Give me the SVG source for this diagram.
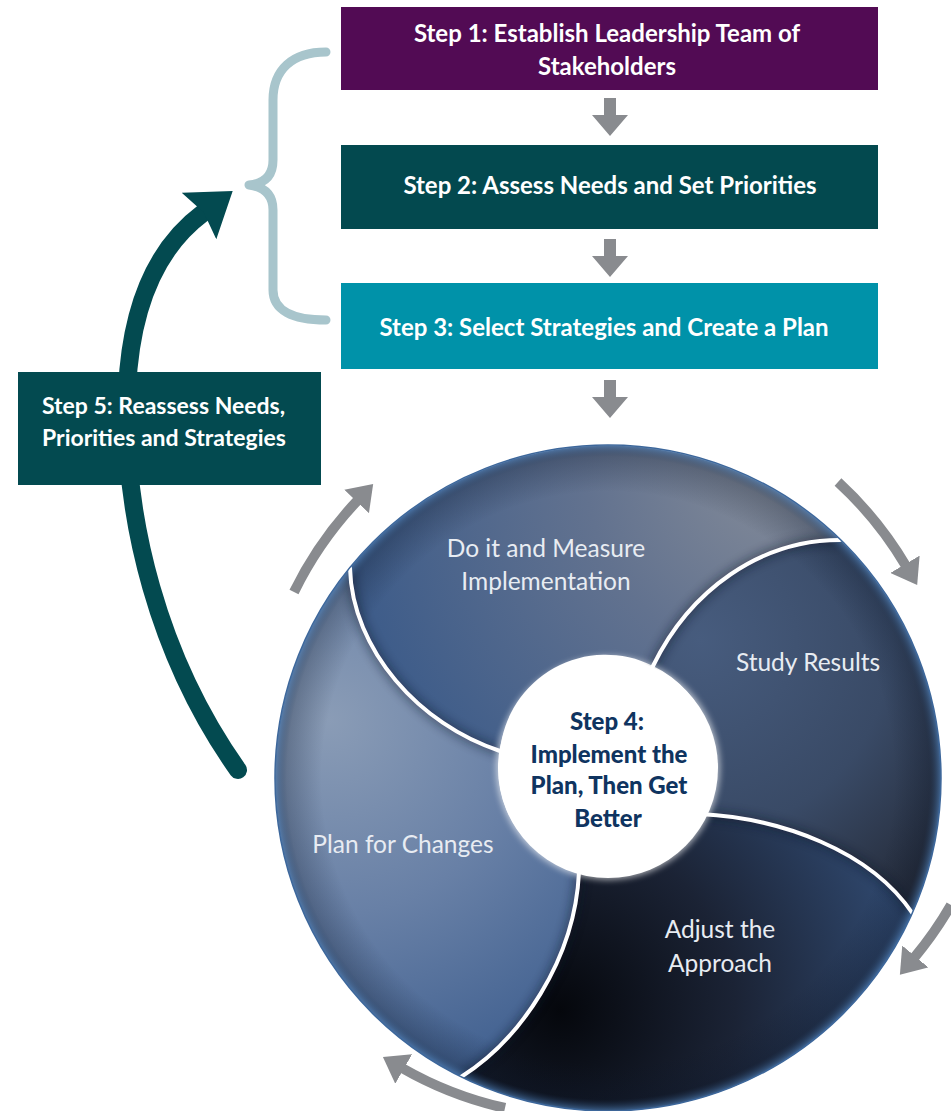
<svg xmlns="http://www.w3.org/2000/svg" width="951" height="1111" viewBox="0 0 951 1111">
  <style>
    .box-text { font-family: Lato, "Open Sans", sans-serif; font-weight: 700; fill: #ffffff; text-anchor: middle; font-size: 24px; }
    .side-text { font-family: Lato, "Open Sans", sans-serif; font-weight: 700; fill: #ffffff; font-size: 23px; }
    .petal-text { font-family: Lato, "Open Sans", sans-serif; font-weight: 400; fill: #e8ecf2; text-anchor: middle; font-size: 24.5px; }
    .hub-text { font-family: Lato, "Open Sans", sans-serif; font-weight: 900; fill: #0f3460; text-anchor: middle; font-size: 24px; }
    .gray-arc { fill: none; stroke: #898b8f; stroke-width: 10; marker-end: url(#grayHead); }
    .divider { fill: none; stroke: #ffffff; stroke-width: 4; stroke-linecap: round; }
    .divider-shadow { fill: none; stroke: #0b1526; stroke-width: 10; opacity: 0.4; filter: url(#soft); }
  </style>
  <defs>
    <marker id="grayHead" markerUnits="userSpaceOnUse" viewBox="0 0 24 34" markerWidth="24" markerHeight="34" refX="2" refY="17" orient="auto">
      <path d="M0,0 L24,17 L0,34 z" fill="#898b8f"/>
    </marker>
    <marker id="tealHead" markerUnits="userSpaceOnUse" viewBox="0 0 42 58" markerWidth="42" markerHeight="58" refX="5" refY="29" orient="auto">
      <path d="M0,0 L42,29 L0,58 L6,29 z" fill="#034a50"/>
    </marker>
    <path id="downArrow" d="M-6,0 h12 v17 h12 l-18,21 l-18,-21 h12 z" fill="#898b8f"/>
    <filter id="soft" x="-20%" y="-20%" width="140%" height="140%">
      <feGaussianBlur stdDeviation="5"/>
    </filter>
    <filter id="glow" x="-30%" y="-30%" width="160%" height="160%">
      <feGaussianBlur stdDeviation="3"/>
    </filter>
    <radialGradient id="gDo" gradientUnits="userSpaceOnUse" cx="780" cy="470" r="430">
      <stop offset="0" stop-color="#858c99"/>
      <stop offset="0.45" stop-color="#62728f"/>
      <stop offset="1" stop-color="#3f5d8a"/>
    </radialGradient>
    <radialGradient id="gStudy" gradientUnits="userSpaceOnUse" cx="700" cy="640" r="320">
      <stop offset="0" stop-color="#475c7e"/>
      <stop offset="0.6" stop-color="#394a66"/>
      <stop offset="1" stop-color="#262d3c"/>
    </radialGradient>
    <radialGradient id="gAdjust" gradientUnits="userSpaceOnUse" cx="560" cy="1010" r="390">
      <stop offset="0" stop-color="#05070c"/>
      <stop offset="0.45" stop-color="#1b2335"/>
      <stop offset="1" stop-color="#34507a"/>
    </radialGradient>
    <radialGradient id="gPlan" gradientUnits="userSpaceOnUse" cx="330" cy="720" r="390">
      <stop offset="0" stop-color="#8a9cb6"/>
      <stop offset="0.5" stop-color="#6880a6"/>
      <stop offset="1" stop-color="#3f5f8f"/>
    </radialGradient>
    <radialGradient id="gRim" gradientUnits="userSpaceOnUse" cx="608" cy="778" r="333">
      <stop offset="0.86" stop-color="#0a1426" stop-opacity="0"/>
      <stop offset="0.965" stop-color="#0a1426" stop-opacity="0.25"/>
      <stop offset="1" stop-color="#4a78ad" stop-opacity="0.75"/>
    </radialGradient>
    <clipPath id="disc">
      <circle cx="608" cy="778" r="333"/>
    </clipPath>
  </defs>

  <rect width="951" height="1111" fill="#ffffff"/>

  <!-- connectors -->
  <g id="connectors">
    <!-- bracket grouping steps 1 to 3 -->
    <path d="M326,52 C292,52 273,70 273,100 L273,160 Q273,183 249,185 Q273,188 273,210 L273,290 C273,310 292,320 326,320" fill="none" stroke="#a8c5cc" stroke-width="9" stroke-linecap="round" stroke-linejoin="round"/>
    <!-- return loop from the cycle back to the top -->
    <path d="M238,770 C160,660 122,520 127,390 C131,300 160,245 203,213" fill="none" stroke="#034a50" stroke-width="18" stroke-linecap="round" marker-end="url(#tealHead)"/>
    <!-- step arrows -->
    <use href="#downArrow" x="610" y="98"/>
    <use href="#downArrow" x="610" y="239"/>
    <use href="#downArrow" x="610" y="380"/>
    <!-- cycle arrows -->
    <path class="gray-arc" d="M294,592 A368,368 0 0 1 358,500"/>
    <path class="gray-arc" d="M838,482 A368,368 0 0 1 906,566"/>
    <path class="gray-arc" d="M951,905 A368,368 0 0 1 914,958"/>
    <path class="gray-arc" d="M505,1108 A368,368 0 0 1 402,1068"/>
  </g>

  <g id="step1">
    <rect x="341" y="7" width="537" height="83" fill="#520b54"/>
    <text class="box-text" x="607" y="42">Step 1: Establish Leadership Team of</text>
    <text class="box-text" x="607" y="75">Stakeholders</text>
  </g>

  <g id="step2">
    <rect x="341" y="145" width="537" height="84" fill="#03494f"/>
    <text class="box-text" x="610" y="194">Step 2: Assess Needs and Set Priorities</text>
  </g>

  <g id="step3">
    <rect x="341" y="283" width="537" height="86" fill="#0092a9"/>
    <text class="box-text" x="604" y="336">Step 3: Select Strategies and Create a Plan</text>
  </g>

  <g id="step5">
    <rect x="18" y="372" width="303" height="113" fill="#034a50"/>
    <text class="side-text" x="42" y="414">Step 5: Reassess Needs,</text>
    <text class="side-text" x="42" y="446">Priorities and Strategies</text>
  </g>

  <g id="step4-cycle">
    <g clip-path="url(#disc)">
      <path id="petal-do" fill="url(#gDo)" d="M350,568 A333,333 0 0 1 840,540 C760,540 690,590 653,666 A106,106 0 0 0 500,751 C420,725 352,650 350,568 Z"/>
      <path id="petal-study" fill="url(#gStudy)" d="M840,540 A333,333 0 0 1 913,914 C870,850 780,818 700,814 A106,106 0 0 0 653,666 C690,590 760,540 840,540 Z"/>
      <path id="petal-adjust" fill="url(#gAdjust)" d="M913,914 A333,333 0 0 1 461,1077 C520,1040 575,960 579,872 A106,106 0 0 0 700,814 C780,818 870,850 913,914 Z"/>
      <path id="petal-plan" fill="url(#gPlan)" d="M461,1077 A333,333 0 0 1 350,568 C352,650 420,725 500,751 A106,106 0 0 0 579,872 C575,960 520,1040 461,1077 Z"/>
      <!-- soft shading along the dividers -->
      <path class="divider-shadow" d="M350,568 C352,650 420,725 500,751"/>
      <path class="divider-shadow" d="M653,666 C690,590 760,540 840,540"/>
      <path class="divider-shadow" d="M700,814 C780,818 870,850 913,914"/>
      <path class="divider-shadow" d="M579,872 C575,960 520,1040 461,1077"/>
      <circle cx="608" cy="778" r="333" fill="url(#gRim)"/>
      <path class="divider" d="M350,568 C352,650 420,725 500,751"/>
      <path class="divider" d="M653,666 C690,590 760,540 840,540"/>
      <path class="divider" d="M700,814 C780,818 870,850 913,914"/>
      <path class="divider" d="M579,872 C575,960 520,1040 461,1077"/>
      <circle cx="608" cy="768" r="112" fill="#ffffff" opacity="0.6" filter="url(#glow)"/>
    </g>
    <circle cx="608" cy="778" r="333" fill="none" stroke="#3d679b" stroke-width="1.5"/>

    <text class="petal-text" x="546" y="557">Do it and Measure</text>
    <text class="petal-text" x="546" y="590">Implementation</text>
    <text class="petal-text" x="808" y="671">Study Results</text>
    <text class="petal-text" x="403" y="853">Plan for Changes</text>
    <text class="petal-text" x="720" y="938">Adjust the</text>
    <text class="petal-text" x="720" y="972">Approach</text>

    <g id="step4">
      <circle cx="608" cy="768" r="110" fill="#ffffff"/>
      <text class="hub-text" x="607" y="730">Step 4:</text>
      <text class="hub-text" x="609" y="763">Implement the</text>
      <text class="hub-text" x="609" y="794">Plan, Then Get</text>
      <text class="hub-text" x="608" y="827">Better</text>
    </g>
  </g>
</svg>
